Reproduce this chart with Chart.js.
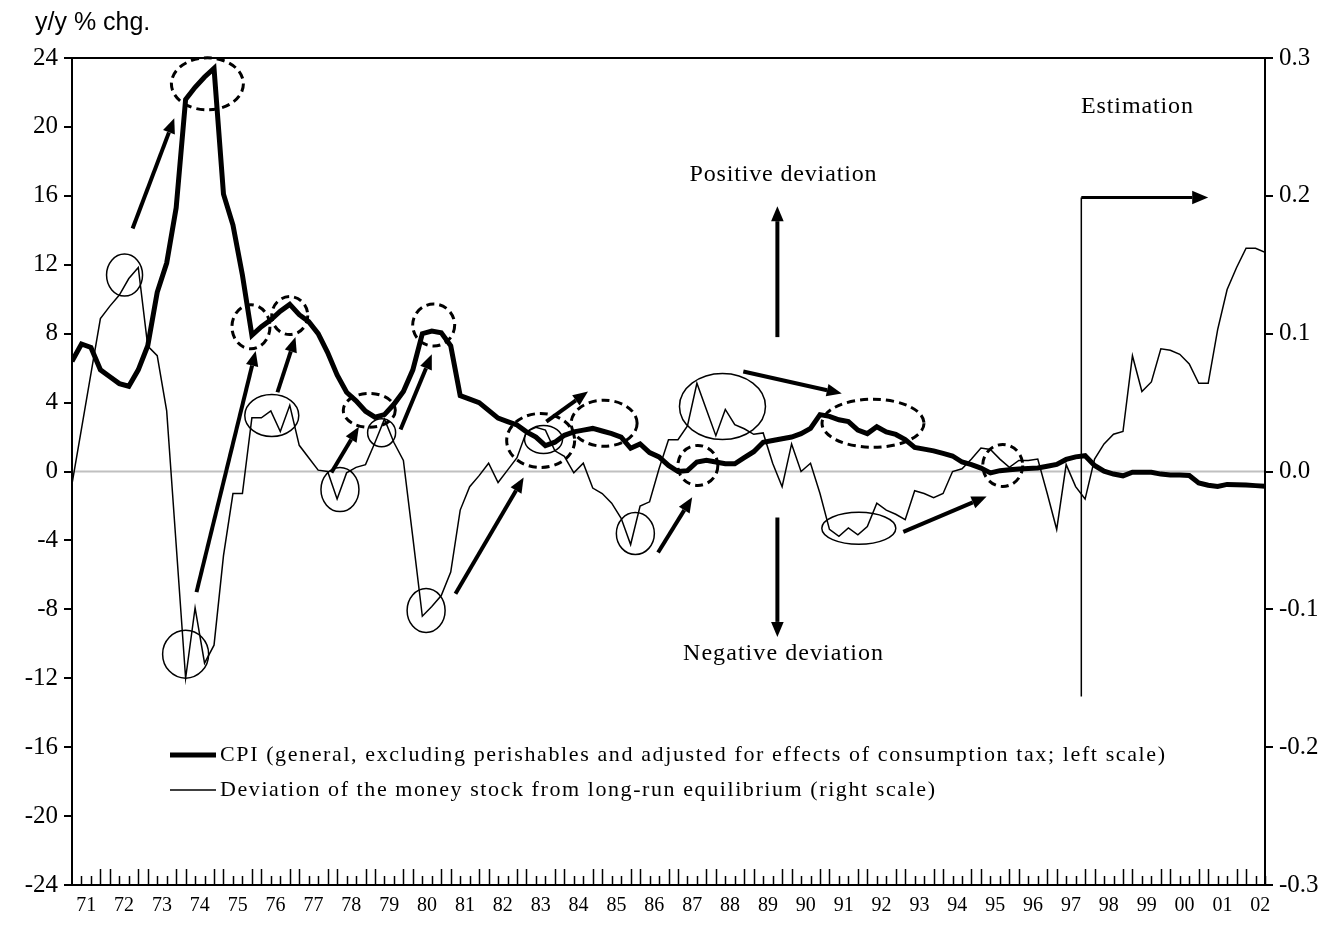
<!DOCTYPE html>
<html>
<head>
<meta charset="utf-8">
<script src="https://cdn.jsdelivr.net/npm/chart.js@4.4.1/dist/chart.umd.min.js"></script>
<style>
  html, body { margin: 0; padding: 0; background: #fff; }
  canvas { display: block; }
</style>
</head>
<body>
<canvas id="chart" width="1337" height="944"></canvas>
<script>
// quarterly data, 71Q1 .. 02Q3
const yearLabels = ['71','72','73','74','75','76','77','78','79','80','81','82','83','84','85','86',
    '87','88','89','90','91','92','93','94','95','96','97','98','99','00','01','02'];

// CPI y/y % chg. (left scale)
const cpiValues = [
    6.4, 7.4, 7.2, 5.9, 5.5, 5.1, 4.95, 5.9, 7.3, 10.4, 12.1, 15.3, 21.6, 22.3, 22.9, 23.4,
    16.1, 14.3, 11.4, 7.9, 8.4, 8.8, 9.3, 9.7, 9.1, 8.7, 8.0, 6.9, 5.6, 4.6, 4.1, 3.5,
    3.15, 3.3, 3.9, 4.65, 5.9, 8.0, 8.15, 8.05, 7.3, 4.4, 4.2, 4.0, 3.55, 3.1, 2.9, 2.7,
    2.3, 2.0, 1.5, 1.7, 2.1, 2.3, 2.4, 2.5, 2.35, 2.2, 2.0, 1.35, 1.6, 1.1, 0.85, 0.35,
    0.0, 0.05, 0.55, 0.65, 0.55, 0.45, 0.45, 0.8, 1.15, 1.7, 1.8, 1.9, 2.0, 2.2, 2.5, 3.3,
    3.2, 3.0, 2.9, 2.4, 2.2, 2.6, 2.3, 2.15, 1.85, 1.4, 1.3, 1.2, 1.05, 0.9, 0.55, 0.4,
    0.2, -0.08, 0.05, 0.1, 0.15, 0.18, 0.2, 0.3, 0.41, 0.7, 0.85, 0.92, 0.35, 0.02, -0.15, -0.25,
    -0.04, -0.04, -0.04, -0.15, -0.2, -0.2, -0.23, -0.66, -0.8, -0.87, -0.75, -0.77, -0.79, -0.82, -0.85
];

// deviation of money stock from long-run equilibrium (right scale)
const deviationValues = [
    -0.009, 0.031, 0.071, 0.111, 0.120, 0.128, 0.140, 0.148, 0.091, 0.084, 0.044, -0.053, -0.150, -0.099, -0.139, -0.126,
    -0.061, -0.016, -0.016, 0.039, 0.039, 0.044, 0.029, 0.048, 0.019, 0.010, 0.001, 0.000, -0.020, -0.001, 0.003, 0.005,
    0.021, 0.038, 0.021, 0.008, -0.048, -0.105, -0.098, -0.090, -0.073, -0.028, -0.011, -0.003, 0.006, -0.008, 0.001, 0.010,
    0.029, 0.032, 0.030, 0.015, 0.011, -0.001, 0.006, -0.012, -0.016, -0.023, -0.034, -0.053, -0.025, -0.022, 0.002, 0.023,
    0.023, 0.033, 0.064, 0.045, 0.026, 0.045, 0.034, 0.031, 0.027, 0.028, 0.006, -0.011, 0.020, 0.000, 0.006, -0.016,
    -0.042, -0.047, -0.041, -0.046, -0.040, -0.023, -0.028, -0.031, -0.035, -0.014, -0.016, -0.019, -0.016, 0.000, 0.002, 0.009,
    0.017, 0.016, 0.009, 0.003, 0.008, 0.008, 0.009, -0.016, -0.042, 0.005, -0.011, -0.020, 0.009, 0.020, 0.027, 0.029,
    0.084, 0.058, 0.065, 0.089, 0.088, 0.085, 0.078, 0.064, 0.064, 0.103, 0.132, 0.148, 0.162, 0.162, 0.159
];

const cpiLegend = 'CPI (general, excluding perishables and adjusted for effects of consumption tax; left scale)';
const devLegend = 'Deviation of the money stock from long-run equilibrium (right scale)';

// annotations in data space: [quarter index, left-scale value, radius x px, radius y px]
const dashedRings = [
    [14.3, 22.5, 36, 26], [18.9, 8.4, 19, 22], [23.0, 9.05, 18, 19], [31.4, 3.55, 26, 17],
    [38.2, 8.5, 21, 21], [49.5, 1.8, 34, 27], [56.2, 2.8, 33, 23], [66.1, 0.35, 20, 20],
    [84.6, 2.8, 51, 24], [98.3, 0.35, 20, 21]
];
const solidRings = [
    [5.55, 11.4, 18, 21], [12.0, -10.6, 23, 24], [21.1, 3.25, 27, 21], [28.3, -1.05, 19, 22],
    [32.7, 2.25, 14, 14], [37.4, -8.07, 19, 22], [49.8, 1.86, 19, 14], [59.5, -3.6, 19, 21],
    [68.7, 3.77, 43, 33], [83.1, -3.3, 37, 16]
];
// [from index, from value, to index, to value]
const arrows = [
    [6.4, 14.1, 10.8, 20.5], [13.15, -7.0, 19.4, 7.0], [21.7, 4.6, 23.6, 7.8], [27.4, -0.06, 30.3, 2.6],
    [34.7, 2.44, 38.0, 6.8], [40.5, -7.1, 47.7, -0.35], [50.1, 2.9, 54.5, 4.64], [61.9, -4.7, 65.5, -1.5],
    [70.9, 5.8, 81.3, 4.53], [87.8, -3.5, 96.6, -1.45],
    [74.5, 7.8, 74.5, 15.4], [74.5, -2.67, 74.5, -9.6]
];
const estimationStart = 106.6;

const SERIF = '"Liberation Serif", "Times New Roman", serif';
const SANS = '"Liberation Sans", Arial, sans-serif';

function spacedText(ctx, text, x, y, width, align) {
    // draws text stretched by letter spacing to a given width
    const chars = [...text];
    const widths = chars.map(c => ctx.measureText(c).width);
    const natural = widths.reduce((a, b) => a + b, 0);
    const gap = chars.length > 1 ? (width - natural) / (chars.length - 1) : 0;
    let cx = align === 'center' ? x - width / 2 : x;
    ctx.textAlign = 'left';
    chars.forEach((c, i) => {
        ctx.fillText(c, cx, y);
        cx += widths[i] + gap;
    });
}

function arrowLine(ctx, x1, y1, x2, y2, lw, head) {
    const ang = Math.atan2(y2 - y1, x2 - x1);
    const bx = x2 - Math.cos(ang) * head;
    const by = y2 - Math.sin(ang) * head;
    ctx.lineWidth = lw;
    ctx.beginPath();
    ctx.moveTo(x1, y1);
    ctx.lineTo(bx, by);
    ctx.stroke();
    ctx.beginPath();
    ctx.moveTo(x2, y2);
    ctx.lineTo(bx + Math.sin(ang) * head * 0.42, by - Math.cos(ang) * head * 0.42);
    ctx.lineTo(bx - Math.sin(ang) * head * 0.42, by + Math.cos(ang) * head * 0.42);
    ctx.closePath();
    ctx.fill();
}

const framePlugin = {
    id: 'frame',
    beforeDatasetsDraw(chart) {
        const { ctx, chartArea: a, scales } = chart;
        const y0 = scales.y.getPixelForValue(0);
        ctx.save();
        ctx.strokeStyle = '#c0c0c0';
        ctx.lineWidth = 2;
        ctx.beginPath();
        ctx.moveTo(a.left, y0);
        ctx.lineTo(a.right, y0);
        ctx.stroke();
        ctx.restore();
    },
    afterDraw(chart) {
        const { ctx, chartArea: a, scales } = chart;
        const xs = scales.x, ys = scales.y;
        const px = v => xs.getPixelForValue(v);
        const py = v => ys.getPixelForValue(v);
        ctx.save();
        ctx.strokeStyle = '#000';
        ctx.fillStyle = '#000';

        // frame
        ctx.lineWidth = 2;
        ctx.strokeRect(a.left, a.top, a.right - a.left, a.bottom - a.top);

        // quarterly ticks inside the bottom axis
        ctx.lineWidth = 1.5;
        ctx.beginPath();
        for (let i = 1; i < cpiValues.length; i++) {
            const h = (i % 4 === 3 || i % 4 === 0) ? 16 : 9;
            const x = Math.round(px(i)) + 0.5;
            ctx.moveTo(x, a.bottom);
            ctx.lineTo(x, a.bottom - h);
        }
        ctx.stroke();

        // rings
        ctx.lineWidth = 3;
        ctx.setLineDash([8, 5]);
        dashedRings.forEach(([i, v, rx, ry]) => {
            ctx.beginPath();
            ctx.ellipse(px(i), py(v), rx, ry, 0, 0, Math.PI * 2);
            ctx.stroke();
        });
        ctx.setLineDash([]);
        ctx.lineWidth = 1.5;
        solidRings.forEach(([i, v, rx, ry]) => {
            ctx.beginPath();
            ctx.ellipse(px(i), py(v), rx, ry, 0, 0, Math.PI * 2);
            ctx.stroke();
        });

        // arrows
        arrows.forEach(([i1, v1, i2, v2]) => arrowLine(ctx, px(i1), py(v1), px(i2), py(v2), 4, 15));

        // estimation marker
        const ex = px(estimationStart);
        ctx.lineWidth = 1.5;
        ctx.beginPath();
        ctx.moveTo(ex, py(-13.06));
        ctx.lineTo(ex, py(15.9));
        ctx.stroke();
        arrowLine(ctx, ex, py(15.9), px(120.0), py(15.9), 3, 16);

        // texts
        ctx.textBaseline = 'middle';
        ctx.font = '24px ' + SERIF;
        spacedText(ctx, 'Positive deviation', 783, 175, 187, 'center');
        spacedText(ctx, 'Negative deviation', 783, 654, 200, 'center');
        spacedText(ctx, 'Estimation', 1137, 107, 112, 'center');

        // legend
        ctx.lineWidth = 5;
        ctx.beginPath();
        ctx.moveTo(170, 755);
        ctx.lineTo(216, 755);
        ctx.stroke();
        ctx.lineWidth = 1.5;
        ctx.beginPath();
        ctx.moveTo(170, 790);
        ctx.lineTo(216, 790);
        ctx.stroke();
        ctx.font = '22px ' + SERIF;
        spacedText(ctx, cpiLegend, 220, 755, 945, 'left');
        spacedText(ctx, devLegend, 220, 790, 715, 'left');

        // unit label
        ctx.font = '25px ' + SANS;
        ctx.textBaseline = 'alphabetic';
        ctx.textAlign = 'left';
        ctx.fillText('y/y % chg.', 35, 30);
        ctx.restore();
    }
};

const tickFont = { family: SERIF, size: 25 };

new Chart(document.getElementById('chart'), {
    type: 'line',
    data: {
        datasets: [
            {
                label: cpiLegend,
                data: cpiValues.map((v, i) => ({ x: i, y: v })),
                yAxisID: 'y',
                borderColor: '#000',
                borderWidth: 5,
                pointRadius: 0,
                tension: 0
            },
            {
                label: devLegend,
                data: deviationValues.map((v, i) => ({ x: i, y: v })),
                yAxisID: 'y1',
                borderColor: '#000',
                borderWidth: 1.5,
                pointRadius: 0,
                tension: 0
            }
        ]
    },
    options: {
        responsive: false,
        animation: false,
        layout: { padding: { top: 58, left: 0, right: 0, bottom: 0 } },
        plugins: { legend: { display: false }, tooltip: { enabled: false } },
        scales: {
            x: {
                type: 'linear',
                min: 0,
                max: cpiValues.length - 1,
                afterBuildTicks: s => { s.ticks = yearLabels.map((_, k) => ({ value: 4 * k + 1.5 })); },
                afterFit: s => { s.height = 59; },
                ticks: {
                    autoSkip: false,
                    maxRotation: 0,
                    padding: 9,
                    color: '#000',
                    font: { family: SERIF, size: 20 },
                    callback: (v, idx) => yearLabels[idx]
                },
                grid: { display: false, drawTicks: false },
                border: { display: false }
            },
            y: {
                position: 'left',
                min: -24,
                max: 24,
                afterFit: s => { s.width = 72; },
                ticks: { stepSize: 4, color: '#000', font: tickFont, padding: 6 },
                grid: { drawOnChartArea: false, color: '#000', lineWidth: 2, tickLength: 8 },
                border: { display: false }
            },
            y1: {
                position: 'right',
                min: -0.3,
                max: 0.3,
                afterFit: s => { s.width = 72; },
                ticks: {
                    stepSize: 0.1,
                    color: '#000',
                    font: tickFont,
                    padding: 6,
                    callback: v => Math.abs(v) < 1e-9 ? '0.0' : v.toFixed(1)
                },
                grid: { drawOnChartArea: false, color: '#000', lineWidth: 2, tickLength: 8 },
                border: { display: false }
            }
        }
    },
    plugins: [framePlugin]
});
</script>
</body>
</html>
